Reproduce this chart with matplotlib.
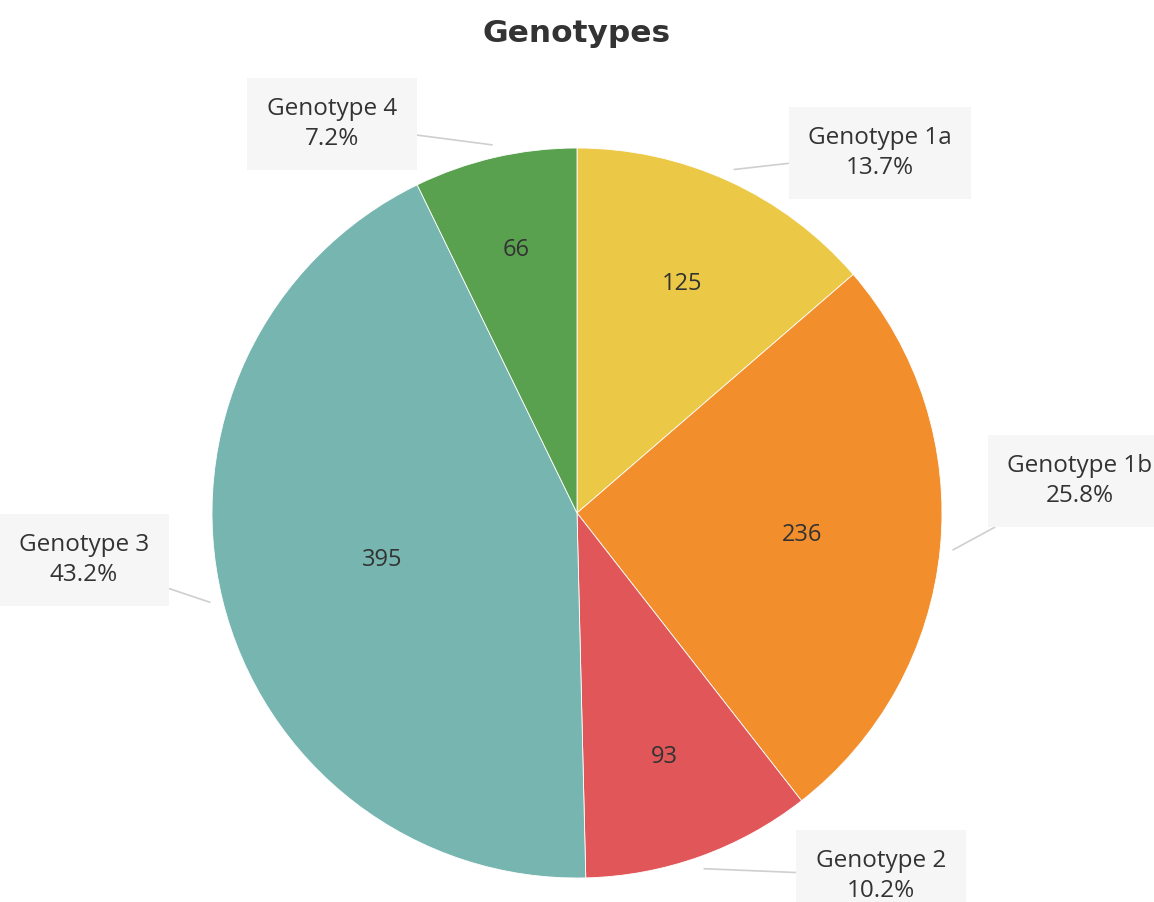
import matplotlib
matplotlib.use("Agg")
import matplotlib.pyplot as plt
import numpy as np

# ---- data ----
categories = ["Genotype 1a", "Genotype 1b", "Genotype 2", "Genotype 3", "Genotype 4"]
counts = [125, 236, 93, 395, 66]
colors = ["#EBC946", "#F28E2B", "#E15759", "#76B5B0", "#59A14F"]
title = "Genotypes"

# ---- layout (pixel coordinates, y up) ----
W, H = 1154, 902
center = (577, 902 - 513)
radius = 365
inner_r = [0.69, 0.62, 0.71, 0.55, 0.74]          # where each count sits (fraction of radius)
label_pos = [(880, 902 - 153), (1080, 902 - 481), (881, 902 - 876),
             (84, 902 - 560), (332, 902 - 124)]

plt.rcParams['font.family'] = ['Open Sans', 'DejaVu Sans']
fig = plt.figure(figsize=(W / 100, H / 100), dpi=100)
ax = fig.add_axes([0, 0, 1, 1])

wedges, _ = ax.pie(counts, colors=colors, startangle=90, counterclock=False,
                   radius=radius, center=center, frame=True,
                   wedgeprops=dict(edgecolor="white", linewidth=0.6))
ax.set_xlim(0, W)
ax.set_ylim(0, H)
ax.set_aspect('equal')
ax.axis('off')

total = sum(counts)
for w, c, r, cat, lp in zip(wedges, counts, inner_r, categories, label_pos):
    mid = np.deg2rad((w.theta1 + w.theta2) / 2)
    x = center[0] + r * radius * np.cos(mid)
    y = center[1] + r * radius * np.sin(mid)
    ax.text(x, y, str(c), ha='center', va='center', fontsize=17, color='#333333')
    ex = center[0] + 1.035 * radius * np.cos(mid)
    ey = center[1] + 1.035 * radius * np.sin(mid)
    ax.annotate(f"{cat}\n{100 * c / total:.1f}%", xy=(ex, ey), xytext=lp,
                ha='center', va='center', fontsize=17.5, color='#333333',
                linespacing=1.3,
                bbox=dict(boxstyle='square,pad=0.8', fc='#f6f6f6', ec='none'),
                arrowprops=dict(arrowstyle='-', color='#cfcfcf', lw=1.2,
                                shrinkA=0, shrinkB=0))

fig.text(0.5, 1 - 33 / H, title, ha='center', va='center', fontsize=22.5,
         fontweight='bold', color='#333333', family=['DejaVu Sans'])

fig.savefig("out.png", dpi=100, facecolor='white')
